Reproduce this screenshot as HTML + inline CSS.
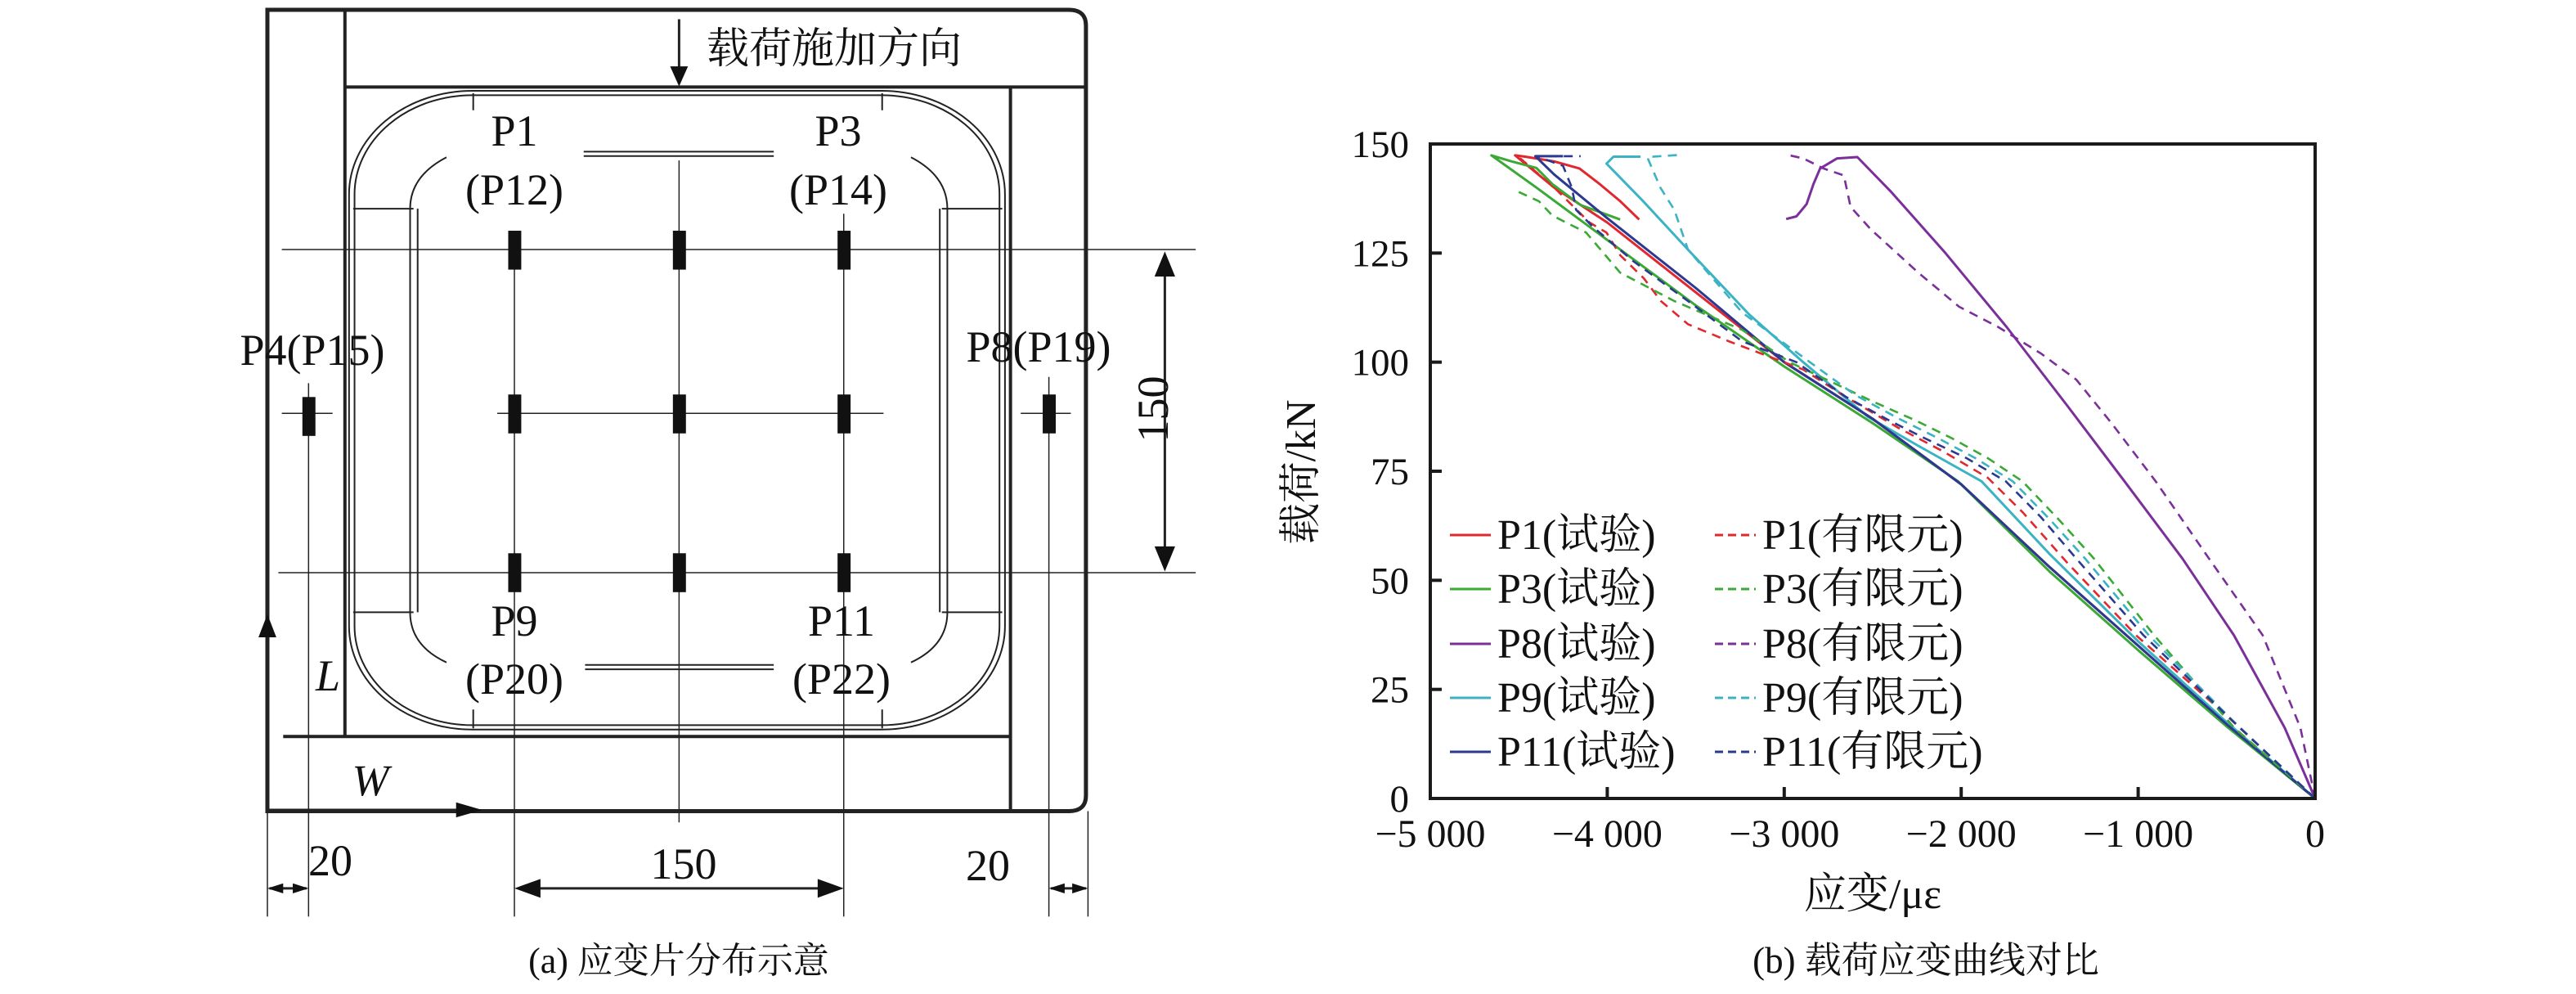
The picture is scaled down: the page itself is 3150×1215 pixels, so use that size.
<!DOCTYPE html>
<html><head><meta charset="utf-8"><style>
html,body{margin:0;padding:0;background:#fff;}
svg{display:block;}
text{font-family:"Liberation Serif","Noto Serif CJK SC","Noto Sans CJK SC",serif;fill:#111;}
</style></head><body>
<svg id="root" width="3150" height="1215" viewBox="0 0 3150 1215" xmlns="http://www.w3.org/2000/svg">
<g id="diagram">
<g transform="translate(245.6,8.2) scale(0.839,0.767)" fill="none" stroke="#222">
  <path d="M97,1282 L97,5 L1265,5 Q1290,5 1290,30 L1290,1257 Q1290,1282 1265,1282 Z" stroke-width="5" vector-effect="non-scaling-stroke"/>
  <line x1="210" y1="5" x2="210" y2="1165" stroke-width="4" vector-effect="non-scaling-stroke"/>
  <line x1="210" y1="128" x2="1290" y2="128" stroke-width="4" vector-effect="non-scaling-stroke"/>
  <line x1="1180" y1="128" x2="1180" y2="1282" stroke-width="4" vector-effect="non-scaling-stroke"/>
  <line x1="120" y1="1163" x2="1180" y2="1163" stroke-width="4" vector-effect="non-scaling-stroke"/>
  <rect x="216" y="134" width="956" height="1018" rx="180" ry="165" stroke-width="2" vector-effect="non-scaling-stroke"/>
  <rect x="224" y="141" width="940" height="1004" rx="172" ry="158" stroke-width="2" vector-effect="non-scaling-stroke"/>
  <path d="M358,240 Q305,270 305,322 L305,965 Q305,1018 358,1045 M316,322 L316,965" stroke-width="2" vector-effect="non-scaling-stroke"/>
  <path d="M1035,240 Q1088,270 1088,322 L1088,965 Q1088,1018 1035,1045 M1077,322 L1077,965" stroke-width="2" vector-effect="non-scaling-stroke"/>
  <path d="M222,322 L310,322 M222,965 L310,965 M1080,322 L1168,322 M1080,965 L1168,965" stroke-width="2" vector-effect="non-scaling-stroke"/>
  <path d="M558,231 L835,231 M558,238 L835,238 M560,1049 L835,1049 M560,1056 L835,1056" stroke-width="2" vector-effect="non-scaling-stroke"/>
  <path d="M397,138 L397,165 M993,138 L993,165 M397,1120 L397,1150 M993,1120 L993,1150" stroke-width="2" vector-effect="non-scaling-stroke"/>
  <path d="M118,387 L1450,387 M113,902 L1450,902 M432,648 L995,648 M457,360 L457,1450 M697,245 L697,1300 M937,330 L937,1450 M118,648 L192,648 M157,600 L157,1450 M1195,648 L1268,648 M1236,590 L1236,1450 M97,1282 L97,1450 M1293,1282 L1293,1450" stroke-width="1.5" vector-effect="non-scaling-stroke"/>
  <g fill="#111" stroke="none">
    <rect x="448" y="357" width="19" height="62"/><rect x="688" y="357" width="19" height="62"/><rect x="928" y="357" width="19" height="62"/>
    <rect x="448" y="618" width="19" height="62"/><rect x="688" y="618" width="19" height="62"/><rect x="928" y="618" width="19" height="62"/>
    <rect x="448" y="871" width="19" height="62"/><rect x="688" y="871" width="19" height="62"/><rect x="928" y="871" width="19" height="62"/>
    <rect x="148" y="622" width="19" height="62"/><rect x="1227" y="618" width="19" height="62"/>
  </g>
  <path d="M97,1280 L97,985 M97,1280 L395,1280 M697,20 L697,118 M1405,400 L1405,890 M467,1405 L925,1405 M100,1405 L154,1405 M1239,1405 L1290,1405" stroke-width="3" vector-effect="non-scaling-stroke"/>
  <g fill="#111" stroke="none">
    <path d="M97,968 L84,1005 L110,1005 Z"/><path d="M410,1280 L372,1268 L372,1292 Z"/>
    <path d="M697,127 L684,95 L710,95 Z"/>
    <path d="M1405,390 L1390,430 L1420,430 Z"/><path d="M1405,900 L1390,860 L1420,860 Z"/>
    <path d="M457,1405 L495,1390 L495,1420 Z"/><path d="M937,1405 L899,1390 L899,1420 Z"/>
    <path d="M97,1405 L120,1397 L120,1413 Z"/><path d="M157,1405 L134,1397 L134,1413 Z"/>
    <path d="M1236,1405 L1259,1397 L1259,1413 Z"/><path d="M1293,1405 L1270,1397 L1270,1413 Z"/>
  </g>
</g>
<g font-size="54">
  <text x="864" y="77" font-size="52">载荷施加方向</text>
  <text x="629" y="178" text-anchor="middle">P1</text>
  <text x="629" y="250" text-anchor="middle">(P12)</text>
  <text x="1025" y="178" text-anchor="middle">P3</text>
  <text x="1025" y="250" text-anchor="middle">(P14)</text>
  <text x="629" y="777" text-anchor="middle">P9</text>
  <text x="629" y="848" text-anchor="middle">(P20)</text>
  <text x="1029" y="777" text-anchor="middle">P11</text>
  <text x="1029" y="848" text-anchor="middle">(P22)</text>
  <text x="382" y="446" text-anchor="middle">P4(P15)</text>
  <text x="1270" y="442" text-anchor="middle">P8(P19)</text>
  <text transform="translate(1428,500) rotate(-90)" text-anchor="middle">150</text>
  <text x="401" y="844" font-style="italic" text-anchor="middle">L</text>
  <text x="453" y="972" font-style="italic" text-anchor="middle">W</text>
  <text x="404" y="1070" text-anchor="middle">20</text>
  <text x="836" y="1074" text-anchor="middle">150</text>
  <text x="1208" y="1076" text-anchor="middle">20</text>
  <text x="830" y="1189" text-anchor="middle" font-size="44">(a) 应变片分布示意</text>
</g>
</g>
<g id="chart"></g>
</svg>
<script>
const xTicks = [-5000, -4000, -3000, -2000, -1000, 0];
const xTickLabels = ["\u22125 000", "\u22124 000", "\u22123 000", "\u22122 000", "\u22121 000", "0"];
const yTicks = [0, 25, 50, 75, 100, 125, 150];
const yTickLabels = ["0", "25", "50", "75", "100", "125", "150"];
const seriesNames = ["P1(试验)", "P3(试验)", "P8(试验)", "P9(试验)", "P11(试验)", "P1(有限元)", "P3(有限元)", "P8(有限元)", "P9(有限元)", "P11(有限元)"];
const p1Test = [[0,0],[-500,17],[-1000,35],[-1500,53],[-2000,72],[-2500,87],[-3000,100],[-3500,116],[-4000,132],[-4300,140],[-4521,147.4],[-4464,147.1],[-4300,146],[-4157,144.4],[-4042,140.8],[-3927,136.9],[-3820,132.7]];
const p3Test = [[0,0],[-500,16.5],[-1000,34],[-1500,52],[-2018,72.7],[-2500,86],[-3000,99],[-3500,113],[-4000,128],[-4400,140],[-4655,147.4],[-4540,146],[-4400,144.5],[-4310,140.8],[-4150,136],[-3927,132.7]];
const p8Test = [[0,0],[-172,16.2],[-459,37.4],[-750,55],[-1077,72.7],[-1400,90],[-1742,108],[-2089,125],[-2395,139],[-2587,147],[-2701,146.7],[-2797,144.4],[-2835,140.8],[-2874,136.2],[-2931,133.4],[-2989,132.8]];
const p9Test = [[0,0],[-500,17.5],[-1000,36],[-1500,56],[-1885,72.7],[-2250,81],[-2528,87.5],[-2893,100],[-3200,111],[-3544,125.8],[-3800,137],[-4004,145.5],[-3965,147.1],[-3812,147.1]];
const p11Test = [[0,0],[-500,17],[-1000,35],[-1500,53],[-2000,72],[-2500,87],[-3000,100],[-3500,117],[-4000,133],[-4300,143],[-4406,147.2],[-4250,147.2]];
const p1Fem = [[0,0],[-500,19],[-1012,37.4],[-1400,54],[-1650,65.5],[-1850,73.5],[-2100,79.5],[-2357,85],[-2650,92],[-2893,98.3],[-3314,104.8],[-3544,108.7],[-3697,114],[-3793,119.2],[-3927,124.5],[-4004,129.7],[-4100,132],[-4300,140],[-4500,147]];
const p3Fem = [[0,0],[-457,16.2],[-910,37.4],[-1250,55],[-1450,64],[-1654,72.7],[-1850,78],[-2050,82.5],[-2250,86.5],[-2500,91],[-2970,100],[-3238,107.4],[-3621,114],[-3927,120.5],[-4119,129.7],[-4310,133.6],[-4387,136.9],[-4500,139]];
const p8Fem = [[0,0],[-83,16.2],[-296,37.4],[-600,55],[-901,72.7],[-1150,86],[-1350,96],[-1550,102],[-1789,108],[-2012,112.7],[-2242,120.5],[-2510,130.4],[-2625,135.6],[-2663,142.8],[-2778,144.4],[-2893,146.7],[-2970,147.4]];
const p9Fem = [[0,0],[-470,18],[-940,37.4],[-1300,55],[-1500,64],[-1709,72.7],[-1920,78],[-2127,82.5],[-2350,87],[-2600,92.5],[-2855,100],[-3238,111.4],[-3544,125.8],[-3621,134.9],[-3700,140],[-3774,147],[-3590,147.5]];
const p11Fem = [[0,0],[-485,18.5],[-970,37.4],[-1350,55],[-1550,64.5],[-1748,72.7],[-1970,78],[-2203,82.5],[-2400,86.5],[-2650,92],[-2931,100],[-3238,104.8],[-3544,114],[-3851,123.1],[-4081,131],[-4176,134.9],[-4200,140],[-4250,145],[-4400,147.2],[-4150,147.2]];
const seriesData = [p1Test,p3Test,p8Test,p9Test,p11Test,p1Fem,p3Fem,p8Fem,p9Fem,p11Fem];
const colors = ["#e0282e","#3aa935","#7b2f9a","#3bb3c3","#2b3990","#e0282e","#3aa935","#7b2f9a","#3bb3c3","#2b3990"];

const L=1749,R=2831,T=176,B=976;
function sx(v){return L+(v+5000)/5000*(R-L);}
function sy(v){return B-v/150*(B-T);}
const NS="http://www.w3.org/2000/svg";
const chart=document.getElementById('chart');
function mk(tag,attrs,parent){const e=document.createElementNS(NS,tag);for(const k in attrs)e.setAttribute(k,attrs[k]);(parent||chart).appendChild(e);return e;}

seriesData.forEach((d,i)=>{
  const p=mk('polyline',{points:d.map(q=>sx(q[0]).toFixed(1)+','+sy(q[1]).toFixed(1)).join(' '),fill:'none',stroke:colors[i],'stroke-width':i<5?3:2.6,'stroke-linejoin':'round'});
  if(i>=5)p.setAttribute('stroke-dasharray','11 8');
  
  
});
const frame=mk('rect',{x:L,y:T,width:R-L,height:B-T,fill:'none',stroke:'#1a1a1a','stroke-width':4});


xTicks.forEach((v,i)=>{
  const t=mk('line',{x1:sx(v),x2:sx(v),y1:B,y2:B-14,stroke:'#1a1a1a','stroke-width':4});
  
  
  const lb=mk('text',{x:sx(v),y:1035,'text-anchor':'middle','font-size':48});
  lb.textContent=xTickLabels[i];
  
  
});
yTicks.forEach((v,i)=>{
  const t=mk('line',{x1:L,x2:L+14,y1:sy(v),y2:sy(v),stroke:'#1a1a1a','stroke-width':4});
  
  
  const lb=mk('text',{x:1723,y:sy(v)+16,'text-anchor':'end','font-size':47});
  lb.textContent=yTickLabels[i];
  
  
});
const rowsY=[654,720,787,853,919];
seriesNames.forEach((n,i)=>{
  const col=i<5?0:1, r=i%5;
  const lx=col?2097:1773, tx=col?2155:1831;
  const ln=mk('line',{x1:lx,x2:lx+50,y1:rowsY[r],y2:rowsY[r],stroke:colors[i],'stroke-width':3});
  if(i>=5)ln.setAttribute('stroke-dasharray','10 6');
  
  
  const tx1=mk('text',{x:tx,y:rowsY[r]+17,'font-size':52});
  tx1.textContent=n;
  
  
});
const yl=mk('text',{transform:'translate(1608,577) rotate(-90)','text-anchor':'middle','font-size':52,textLength:177,lengthAdjust:'spacingAndGlyphs'});
yl.textContent='载荷/kN';


const xl=mk('text',{x:2290,y:1110,'text-anchor':'middle','font-size':52});
xl.textContent='应变/με';


const cap=mk('text',{x:2355,y:1189,'text-anchor':'middle','font-size':45});
cap.textContent='(b) 载荷应变曲线对比';


</script>
</body></html>
